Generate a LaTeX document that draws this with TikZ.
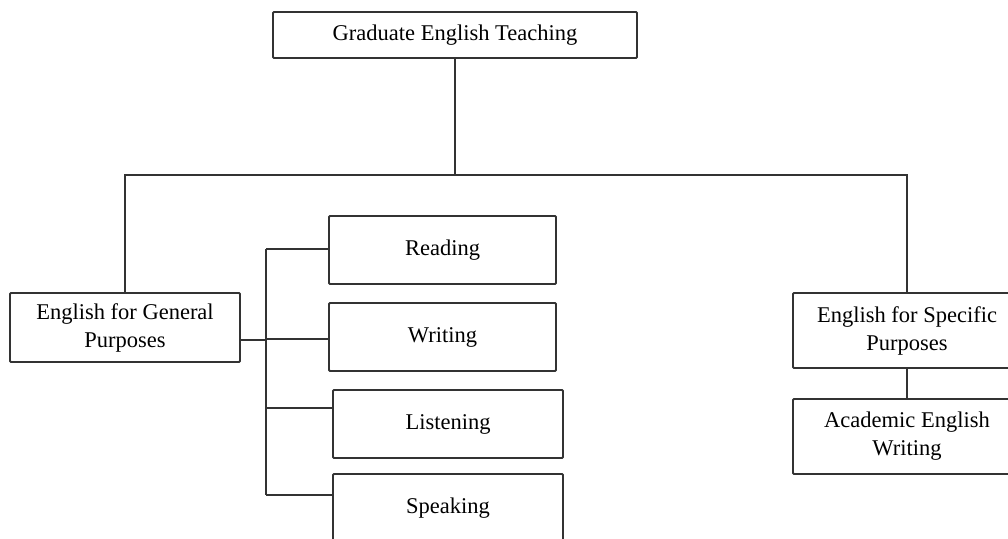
\documentclass[tikz,border=0pt]{standalone}
\usepackage{fontspec}
\setmainfont{Liberation Serif}
\tikzset{
  box/.style={draw=black!80,line width=1.8pt,rounded corners=1pt,fill=white,
    align=center,inner sep=2pt,font=\fontsize{22.5}{28}\selectfont},
  link/.style={draw=black!80,line width=1.8pt}
}
\begin{document}
\begin{tikzpicture}[x=1pt,y=-1pt]
  \useasboundingbox (0,0) rectangle (1008,538);
  \clip (0,0) rectangle (1008,538);
  % boxes
  \node[box,minimum width=364pt,minimum height=46pt] (top) at (455,35) {Graduate English Teaching};
  \node[box,minimum width=230pt,minimum height=69pt] (egp) at (125,327.5) {English for General\\Purposes};
  \node[box,minimum width=228pt,minimum height=75pt] (esp) at (907,330.5) {English for Specific\\Purposes};
  \node[box,minimum width=228pt,minimum height=75pt] (aew) at (907,436.5) {Academic English\\Writing};
  \node[box,minimum width=227pt,minimum height=68pt] (read) at (442.5,250) {Reading};
  \node[box,minimum width=227pt,minimum height=68pt] (write) at (442.5,337) {Writing};
  \node[box,minimum width=230pt,minimum height=68pt] (listen) at (448,424) {Listening};
  \node[box,minimum width=230pt,minimum height=68pt] (speak) at (448,508) {Speaking};
  % tree lines
  \coordinate (mid) at (455,175);
  \draw[link] (top.south) -- (mid);
  \draw[link] (egp.north) |- (mid) -| (esp.north);
  \draw[link] (esp.south) -- (aew.north);
  % skills bus
  \coordinate (busT) at (266,249);
  \coordinate (busB) at (266,495);
  \draw[link] (busT) -- (busB);
  \draw[link] (egp.east |- 0,340) -- (busT |- 0,340);
  \draw[link] (busT) -- (read.west |- busT);
  \draw[link] (busT |- 0,339) -- (write.west |- 0,339);
  \draw[link] (busT |- 0,408) -- (listen.west |- 0,408);
  \draw[link] (busB) -- (speak.west |- busB);
\end{tikzpicture}
\end{document}
